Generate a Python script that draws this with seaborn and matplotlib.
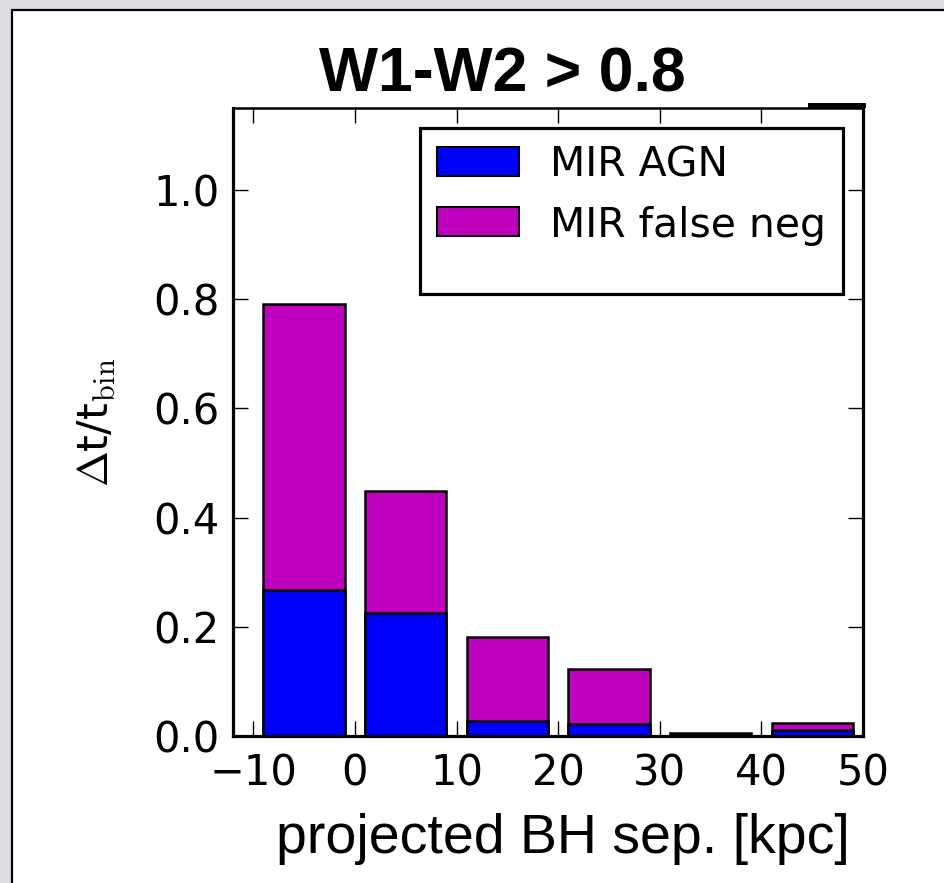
import matplotlib
matplotlib.use("Agg")
import matplotlib.pyplot as plt
import seaborn as sns
import numpy as np
from matplotlib.patches import Patch, Rectangle
from matplotlib.lines import Line2D
from matplotlib.legend_handler import HandlerPatch

# ---- data ----
bin_centers = [-5, 5, 15, 25, 35, 45]
mir_agn = [0.267, 0.225, 0.027, 0.022, 0.002, 0.011]
mir_false_neg = [0.524, 0.224, 0.154, 0.101, 0.003, 0.013]
xtick_values = [-10, 0, 10, 20, 30, 40, 50]
xtick_labels = ["\u221210", "0", "10", "20", "30", "40", "50"]
ytick_values = [0.0, 0.2, 0.4, 0.6, 0.8, 1.0]
ytick_labels = ["0.0", "0.2", "0.4", "0.6", "0.8", "1.0"]
series_labels = ["MIR AGN", "MIR false neg"]
title_text = "W1-W2 > 0.8"
xlabel_text = "projected BH sep. [kpc]"
ylabel_text = r"$\Delta$t/t$_{\rm bin}$"

totals = [a + b for a, b in zip(mir_agn, mir_false_neg)]

sns.set_style("white")
plt.rcParams["font.family"] = ["DejaVu Sans"]
plt.rcParams["mathtext.fontset"] = "cm"
plt.rcParams["text.color"] = "black"
plt.rcParams["axes.labelcolor"] = "black"
plt.rcParams["xtick.color"] = "black"
plt.rcParams["ytick.color"] = "black"

W, H = 944, 883
fig = plt.figure(figsize=(W / 100, H / 100), dpi=100)
fig.patch.set_facecolor("#dcdde0")
fig.patches.append(Rectangle((12 / W, -0.1), 1.2, 1 - 10 / H + 0.1,
                             transform=fig.transFigure, facecolor="white",
                             edgecolor="black", linewidth=1.6, zorder=-10))

ax = fig.add_axes([233 / W, 1 - 736 / H, 630 / W, 628 / H])
ax.set_zorder(1)
ax.set_facecolor("white")

blue = "#0000ff"
magenta = "#bf00bf"

sns.barplot(x=bin_centers, y=totals, native_scale=True, color=magenta,
            saturation=1, edgecolor="black", linewidth=1.8, width=0.8,
            errorbar=None, ax=ax)
sns.barplot(x=bin_centers, y=mir_agn, native_scale=True, color=blue,
            saturation=1, edgecolor="black", linewidth=1.8, width=0.8,
            errorbar=None, ax=ax)

ax.set_xlim(-12, 50)
ax.set_ylim(0, 1.15)
ax.set_xticks(xtick_values)
ax.set_xticklabels(xtick_labels)
ax.set_yticks(ytick_values)
ax.set_yticklabels(ytick_labels)
ax.tick_params(axis="both", which="major", direction="in", length=11,
               width=1.0, color="black", labelsize=30, labelcolor="black",
               top=True, right=True, bottom=True, left=True)
ax.tick_params(axis="y", pad=9.5)
ax.tick_params(axis="x", pad=12)

for side in ["left", "bottom", "right"]:
    ax.spines[side].set_visible(True)
    ax.spines[side].set_color("black")
    ax.spines[side].set_linewidth(2.3)
ax.spines["top"].set_visible(True)
ax.spines["top"].set_color("black")
ax.spines["top"].set_linewidth(1.8)
# thicker top-right spine segment, as in the reference
ax.add_line(Line2D([(810 - 233) / 630, 1.0], [1.004, 1.004],
                   transform=ax.transAxes, color="black", linewidth=3.6,
                   clip_on=False, solid_capstyle="projecting", zorder=5))

ax.set_xlabel(xlabel_text, fontsize=40, family="Liberation Sans", color="black")
ax.xaxis.set_label_coords((563 - 233) / 630, -0.122)
ax.set_ylabel(ylabel_text, fontsize=31, va="center", color="black")
ax.yaxis.set_label_coords((97 - 233) / 630, 0.5)

fig.text(502 / W, 1 - 92 / H, title_text, ha="center", va="baseline",
         family="Liberation Sans", weight="bold", fontsize=45, color="black")

LEG_FS = 29.4
BOX_H = 0.72 * LEG_FS  # visible handle box height, points


def tall_patch(legend, orig_handle, xdescent, ydescent, width, height, fontsize):
    extra = (BOX_H - height) / 2.0
    return Rectangle((-xdescent, -ydescent - extra), width, height + 2 * extra)


handles = [Patch(facecolor=blue, edgecolor="black", linewidth=1.5, label=series_labels[0]),
           Patch(facecolor=magenta, edgecolor="black", linewidth=1.5, label=series_labels[1]),
           Patch(facecolor="none", edgecolor="none", label=" ")]
leg = ax.legend(handles=handles, loc="upper left",
                bbox_to_anchor=((420 - 233) / 630, (736 - 128) / 628),
                borderaxespad=0, fontsize=LEG_FS, frameon=True, fancybox=False,
                shadow=False, handlelength=2.0, handleheight=0.15,
                labelspacing=0.5, handletextpad=0.76, borderpad=0.42,
                handler_map={Patch: HandlerPatch(patch_func=tall_patch)})
frame = leg.get_frame()
frame.set_edgecolor("black")
frame.set_linewidth(2.3)
frame.set_facecolor("white")
frame.set_alpha(1)
for t in leg.get_texts():
    t.set_color("black")
leg.get_texts()[2].set_fontsize(1)
# make the empty third legend row short (reference legend has a short blank row)
try:
    col = leg._legend_handle_box.get_children()[0]
    third_handlebox = col.get_children()[2].get_children()[0]
    third_handlebox.height = 7.5
    third_handlebox.ydescent = 0
except Exception:
    pass

fig.savefig("out.png", dpi=100, facecolor=fig.get_facecolor())
